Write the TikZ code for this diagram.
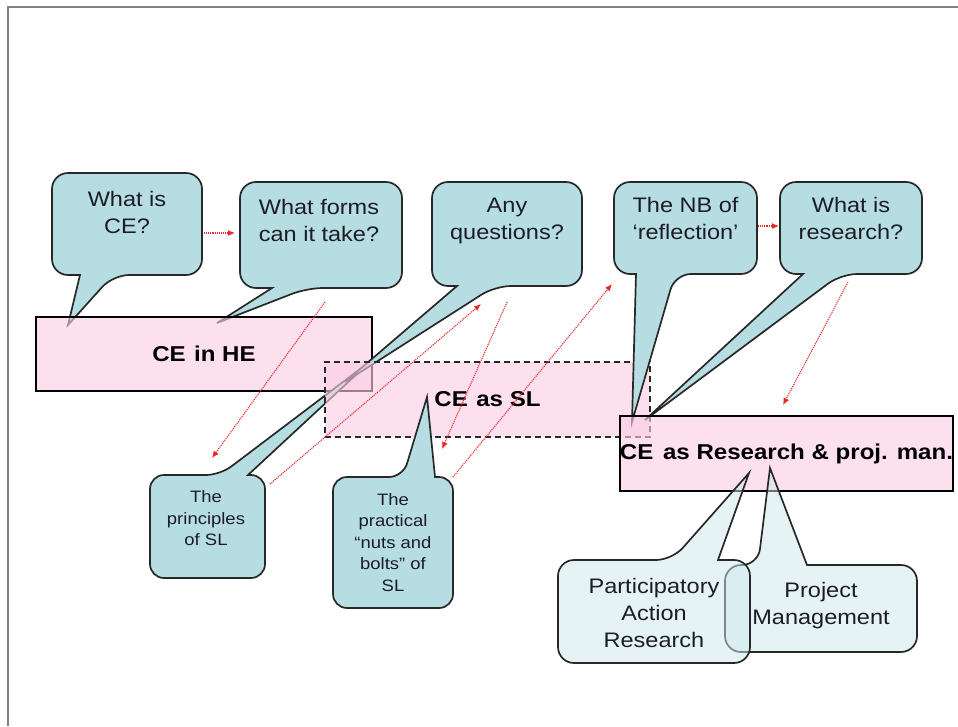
\documentclass[tikz,border=0pt]{standalone}
\usepackage{fontspec}
\setmainfont{Liberation Sans}
\usepackage{graphicx}
\usetikzlibrary{arrows.meta}

\definecolor{bubblefill}{RGB}{182,221,226}
\definecolor{lightbubble}{RGB}{205,232,236}
\definecolor{boxpink}{RGB}{251,205,227}
\definecolor{inkline}{RGB}{40,40,40}
\definecolor{textink}{RGB}{28,28,38}
\definecolor{dotred}{RGB}{235,40,40}
\definecolor{framegray}{RGB}{128,128,128}

% slightly widened lettering
\newcommand\stretchx[1]{\scalebox{1.12}[1]{#1}}
\newcommand\stack[1]{\stretchx{\begin{tabular}{@{}c@{}}#1\end{tabular}}}

% speech bubble: rounded box with a wedge leaving the bottom edge
\newcommand\bubbledown[6]{%
  \draw[#1] (#2.north) [rounded corners=#3] -- (#2.north east) -- (#2.south east)
    -- #5 [sharp corners] -- (#6) -- #4 [rounded corners=#3]
    -- (#2.south west) -- (#2.north west) -- cycle;}
% speech bubble: rounded box with a wedge leaving the top edge
\newcommand\bubbleup[6]{%
  \draw[#1] (#2.south) [rounded corners=#3] -- (#2.south west) -- (#2.north west)
    -- #4 [sharp corners] -- (#6) -- #5 [rounded corners=#3]
    -- (#2.north east) -- (#2.south east) -- cycle;}

\tikzset{
  slot/.style={inner sep=0pt, outer sep=0pt},
  bubble/.style={fill=bubblefill, draw=inkline, line width=1.7pt},
  palebubble/.style={fill=lightbubble, fill opacity=0.5, draw=inkline, line width=1.7pt, draw opacity=1},
  qtext/.style={text=textink, inner sep=0pt, font=\fontsize{21}{27}\selectfont},
  smalltext/.style={text=textink, inner sep=0pt, font=\fontsize{16.5}{21.5}\selectfont},
  pinkbox/.style={fill=boxpink, fill opacity=0.62, text opacity=1, draw=black,
    line width=1.3pt, inner sep=0pt, outer sep=0pt, text=black,
    font=\fontsize{21.5}{26}\selectfont\bfseries},
  dashbox/.style={pinkbox, draw=inkline, line width=1.6pt, dash pattern=on 6pt off 4pt},
  hint/.style={draw=dotred, line width=1.1pt, densely dotted,
    -{Latex[length=7pt,width=6pt]}},
}

\begin{document}
\begin{tikzpicture}[x=1pt,y=-1pt]
\useasboundingbox (0,0) rectangle (958,726);

% page frame
\draw[framegray, line width=2.5pt] (7,7) -- (958,7);
\draw[framegray, line width=2.5pt] (8,7) -- (8,726);

% ---- wedge tips
\coordinate (t1) at (68,325);
\coordinate (t2) at (217,323);
\coordinate (t3) at (345,382);
\coordinate (t4) at (372,360);
\coordinate (t5) at (427,397);
\coordinate (t6) at (632,422);
\coordinate (t7) at (645,420);
\coordinate (t8) at (749,473);
\coordinate (t9) at (770,468);

% ---- bubbles beneath "CE in HE"
\node[slot, minimum width=150pt, minimum height=102pt] (q1) at (127,224) {};
\node[slot, minimum width=162pt, minimum height=106pt] (q2) at (321,235) {};
\bubbledown{bubble}{q1}{16pt}{(80,275)}{(113,275)}{t1}
\bubbledown{bubble}{q2}{16pt}{(272,288)}{(307,288)}{t2}

\node[pinkbox, minimum width=336pt, minimum height=74pt] (he) at (204,354)
  {\stretchx{CE\hspace{0.35em}in HE}};

% ---- bubbles beneath "CE as SL"
\node[slot, minimum width=115pt, minimum height=103pt] (p1) at (207.5,526.5) {};
\node[slot, minimum width=150pt, minimum height=104pt] (q3) at (507,234) {};
\bubbleup{bubble}{p1}{14pt}{(220,475)}{(248,475)}{t4}
\bubbledown{bubble}{q3}{16pt}{(457,286)}{(495,286)}{t3}

\node[dashbox, minimum width=325pt, minimum height=75pt] (sl) at (487.5,399.5)
  {\stretchx{CE\hspace{0.35em}as SL}};

% ---- bubbles beneath "CE as Research"
\node[slot, minimum width=120pt, minimum height=131pt] (p2) at (393,542.5) {};
\node[slot, minimum width=143pt, minimum height=92pt] (q4) at (685.5,228) {};
\node[slot, minimum width=142pt, minimum height=92pt] (q5) at (851,228) {};
\bubbleup{bubble}{p2}{14pt}{(403,477)}{(435,477)}{t5}
\bubbledown{bubble}{q4}{16pt}{(636,274)}{(675,274)}{t6}
\bubbledown{bubble}{q5}{16pt}{(803,274)}{(841,274)}{t7}

\node[pinkbox, minimum width=333pt, minimum height=75pt] (res) at (786.5,453.5)
  {\stretchx{CE\hspace{0.4em}as Research \& proj. man.}};

% ---- sub-topic bubbles
\node[slot, minimum width=192pt, minimum height=87pt] (pm) at (821,608.5) {};
\node[slot, minimum width=192pt, minimum height=103pt] (par) at (654,611.5) {};
\bubbleup{palebubble}{pm}{16pt}{(758,565)}{(807,565)}{t9}
\bubbleup{palebubble}{par}{16pt}{(672,560)}{(718,560)}{t8}

% ---- bubble texts
\node[qtext] (q1t) at (127,215) {\stack{What is\\CE?}};
\node[qtext] (q2t) at (319,223) {\stack{What forms\\can it take?}};
\node[qtext] (q3t) at (507,221) {\stack{Any\\questions?}};
\node[qtext] (q4t) at (685.5,221) {\stack{The NB of\\‘reflection’}};
\node[qtext] (q5t) at (851,221) {\stack{What is\\research?}};
\node[smalltext] (p1t) at (206,520) {\stack{The\\principles\\of SL}};
\node[smalltext] (p2t) at (393,544) {\stack{The\\practical\\“nuts and\\bolts” of\\SL}};
\node[qtext] (part) at (654,615) {\stack{Participatory\\Action\\Research}};
\node[qtext] (pmt) at (821,606) {\stack{Project\\Management}};

% ---- dotted reading-order hints
\coordinate (h1a) at (204,233); \coordinate (h1b) at (235,233);
\coordinate (h2a) at (325,302); \coordinate (h2b) at (212,458);
\coordinate (h3a) at (270,484); \coordinate (h3b) at (481,304);
\coordinate (h4a) at (507,302); \coordinate (h4b) at (442,449);
\coordinate (h5a) at (453,477); \coordinate (h5b) at (612,284);
\coordinate (h6a) at (758,226); \coordinate (h6b) at (779,226);
\coordinate (h7a) at (848,282); \coordinate (h7b) at (783,405);
\draw[hint] (h1a) -- (h1b);
\draw[hint] (h2a) -- (h2b);
\draw[hint] (h3a) -- (h3b);
\draw[hint] (h4a) -- (h4b);
\draw[hint] (h5a) -- (h5b);
\draw[hint] (h6a) -- (h6b);
\draw[hint] (h7a) -- (h7b);
\end{tikzpicture}
\end{document}
